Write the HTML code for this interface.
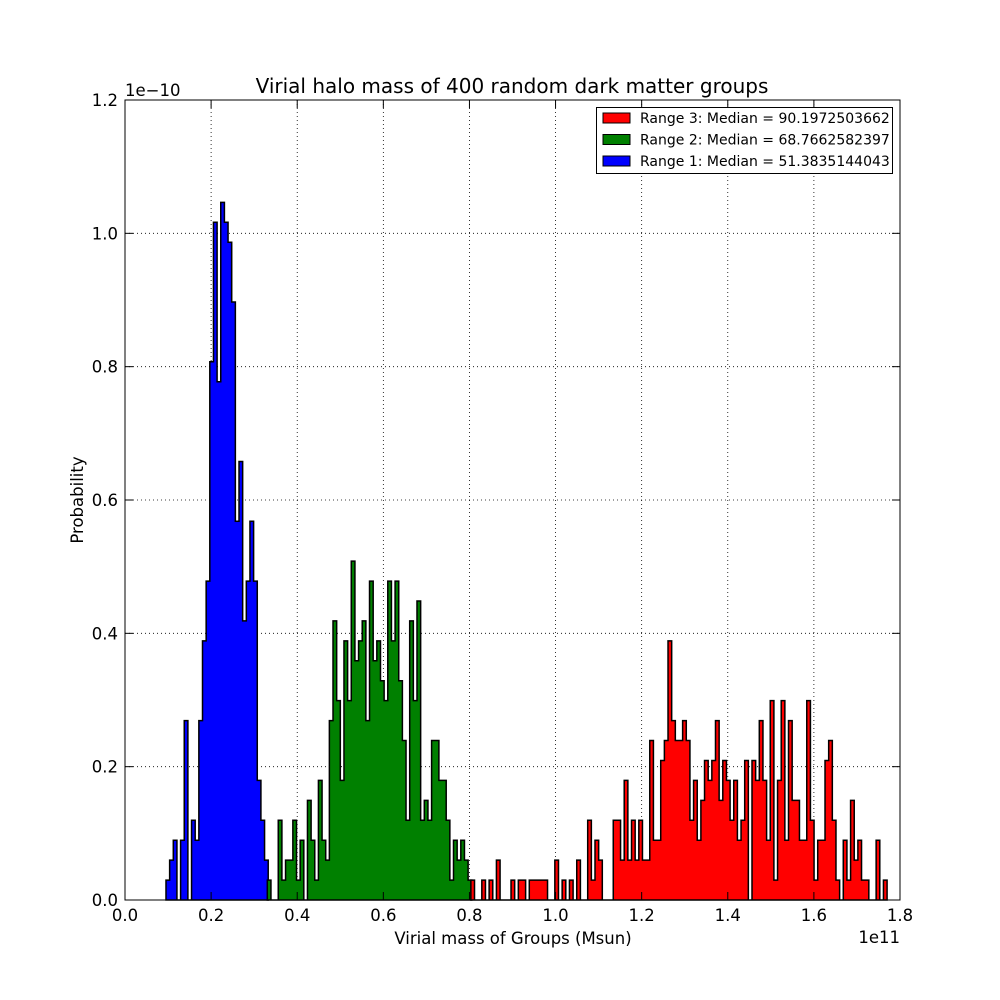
<!DOCTYPE html>
<html><head><meta charset="utf-8"><style>
html,body{margin:0;padding:0;background:#fff;}
svg{display:block;font-family:"DejaVu Sans","Liberation Sans",sans-serif;}
</style></head><body>
<svg id="chart" width="1000" height="1000" viewBox="0 0 1000 1000"></svg>
<script>
// Data (counts per bin; each count = one probability unit)
const unitValue = 0.0299; // in units of 1e-10
const binWidth = 0.00848; // in units of 1e11
const range1Start = 0.0952;
const range1Counts = [1,2,3,0,3,9,0,4,3,9,13,16,27,34,26,35,34,33,30,19,22,14,16,19,16,6,4,2];
const range2Start = 0.3305;
const range2Counts = [1,0,0,4,1,2,2,4,1,3,0,5,3,1,6,3,2,9,14,10,6,13,10,17,12,13,14,9,16,12,13,11,10,16,13,16,11,8,4,14,10,15,4,5,4,8,8,6,6,4,1,3,2,3,2,1];
const range3Start = 0.8033;
const range3Counts = [1,0,0,1,0,1,0,2,0,0,0,1,0,1,1,0,1,1,1,1,1,0,0,2,0,1,0,1,0,2,0,0,4,1,3,2,0,0,0,4,4,2,6,2,4,2,4,2,2,8,3,3,7,8,13,9,8,8,9,8,4,
  6,3,5,7,6,7,9,5,7,6,4,6,3,4,7,0,7,6,9,6,3,10,1,6,10,3,9,5,5,3,3,10,4,1,3,3,7,8,4,1,0,3,1,5,2,3,1,1,0,0,3,0,1];
const xTicks = [0.0,0.2,0.4,0.6,0.8,1.0,1.2,1.4,1.6,1.8];
const yTicks = [0.0,0.2,0.4,0.6,0.8,1.0,1.2];
const legendLabels = ["Range 3: Median = 90.1972503662","Range 2: Median = 68.7662582397","Range 1: Median = 51.3835144043"];
const legendColors = ["#ff0000","#008000","#0000ff"];

const L=125,R=900,T=100,B=900;
const xMin=0,xMax=1.8,yMin=0,yMax=1.2;
const xs=v=>L+(v-xMin)/(xMax-xMin)*(R-L);
const ys=v=>B-(v-yMin)/(yMax-yMin)*(B-T);
const svg=document.getElementById('chart');
const NS='http://www.w3.org/2000/svg';
function mk(tag,attrs,parent){const e=document.createElementNS(NS,tag);for(const k in attrs)e.setAttribute(k,attrs[k]);(parent||svg).appendChild(e);return e;}

// grid
const grid=mk('g',{});


xTicks.forEach(t=>{if(t>xMin&&t<xMax){const l=mk('line',{x1:xs(t),x2:xs(t),y1:T,y2:B,stroke:'#000','stroke-width':0.8,'stroke-dasharray':'1,3'},grid);}});
yTicks.forEach(t=>{if(t>yMin&&t<yMax){const l=mk('line',{x1:L,x2:R,y1:ys(t),y2:ys(t),stroke:'#000','stroke-width':0.8,'stroke-dasharray':'1,3'},grid);}});

function hist(start,counts,color,name){
  let d=`M${xs(start)},${ys(0)}`;
  counts.forEach((c,i)=>{const x0=xs(start+i*binWidth),x1=xs(start+(i+1)*binWidth),y=ys(c*unitValue);d+=` L${x0},${y} L${x1},${y}`;});
  d+=` L${xs(start+counts.length*binWidth)},${ys(0)} Z`;
  const p=mk('path',{d:d,fill:color,stroke:'#000','stroke-width':1.5,'stroke-linejoin':'miter'});
  
  
}
hist(range1Start,range1Counts,'#0000ff','range-1-histogram');
hist(range2Start,range2Counts,'#008000','range-2-histogram');
hist(range3Start,range3Counts,'#ff0000','range-3-histogram');

// frame
const frame=mk('rect',{x:L,y:T,width:R-L,height:B-T,fill:'none',stroke:'#000','stroke-width':1});



// ticks
xTicks.forEach(t=>{
  mk('line',{x1:xs(t),x2:xs(t),y1:B,y2:B-8,stroke:'#000','stroke-width':1});
  mk('line',{x1:xs(t),x2:xs(t),y1:T,y2:T+8,stroke:'#000','stroke-width':1});
  const tx=mk('text',{x:xs(t),y:B+21,'font-size':16.5,'text-anchor':'middle',fill:'#000'});
  tx.textContent=t.toFixed(1);
  
  
});
yTicks.forEach(t=>{
  mk('line',{x1:L,x2:L+8,y1:ys(t),y2:ys(t),stroke:'#000','stroke-width':1});
  mk('line',{x1:R,x2:R-8,y1:ys(t),y2:ys(t),stroke:'#000','stroke-width':1});
  const tx=mk('text',{x:L-7,y:ys(t)+6,'font-size':16.5,'text-anchor':'end',fill:'#000'});
  tx.textContent=t.toFixed(1);
  
  
});

let t;
t=mk('text',{x:125,y:96,'font-size':16.5});t.textContent='1e\u221210';


t=mk('text',{x:900,y:943,'font-size':16.5,'text-anchor':'end'});t.textContent='1e11';


t=mk('text',{x:512,y:93,'font-size':20,'text-anchor':'middle'});t.textContent='Virial halo mass of 400 random dark matter groups';


t=mk('text',{x:513,y:944,'font-size':16.5,'text-anchor':'middle'});t.textContent='Virial mass of Groups (Msun)';


t=mk('text',{x:83,y:500,'font-size':16.5,'text-anchor':'middle',transform:'rotate(-90 83 500)'});t.textContent='Probability';



// legend
const lg=mk('g',{});


mk('rect',{x:596.5,y:107.5,width:296,height:66,fill:'#fff',stroke:'#000','stroke-width':1},lg);
legendLabels.forEach((lab,i)=>{
  const y=118+i*21.5;
  const sw=mk('rect',{x:603,y:y-5,width:27,height:10,fill:legendColors[i],stroke:'#000','stroke-width':1},lg);
  
  
  const tx=mk('text',{x:640,y:y+5,'font-size':14},lg);
  tx.textContent=lab;
  
  
});
</script>
</body></html>
